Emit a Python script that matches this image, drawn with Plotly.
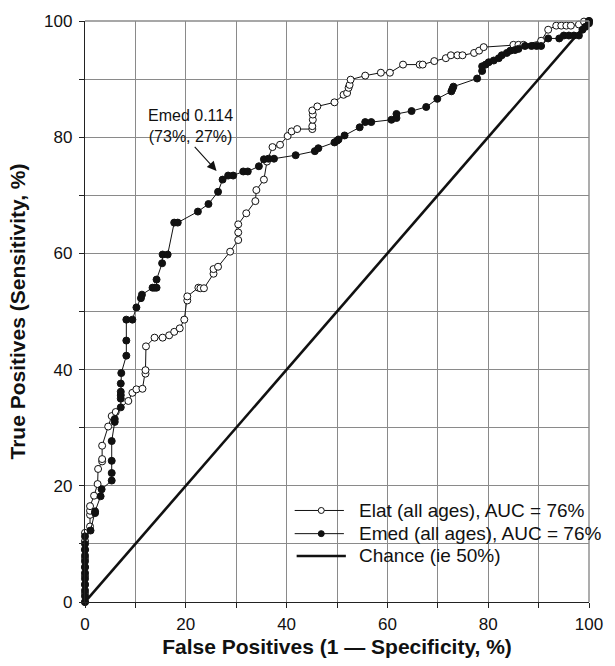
import plotly.graph_objects as go

# ---- data ----
elat_x = [0, 0, 0, 0, 0, 0, 0, 0, 0, 1.0, 1.0, 1.0, 1.0, 1.8, 2.5, 2.6, 3.4, 3.4, 3.4,
          4.6, 5.3, 6.1, 8.6, 9.4, 10.2, 11.4, 12.0, 12.0, 12.1, 13.8, 15.4, 16.7, 17.7,
          18.8, 19.7, 20.3, 20.3, 22.5, 22.9, 23.6, 25.5, 25.5, 26.4, 28.8, 30.4, 30.4,
          30.4, 32.0, 33.8, 34.0, 35.5, 36.1, 37.2, 38.7, 40.2, 41.0, 42.1, 45.1, 45.1,
          45.2, 45.2, 45.1, 46.1, 49.5, 51.3, 52.0, 52.3, 52.5, 52.7, 55.6, 58.7, 60.5,
          63.1, 66.4, 67.0, 69.3, 71.6, 72.6, 73.9, 74.9, 77.2, 78.2, 79.1, 85.0, 86.0,
          87.0, 90.5, 91.9, 93.5, 94.5, 95.5, 96.4, 98.0, 99.0, 100]
elat_y = [0, 1.5, 3, 4.5, 6, 7.5, 9, 10.5, 11.9, 13.0, 15.0, 15.7, 16.5, 18.3, 20.3, 22.9,
          24.2, 24.6, 26.9, 30.2, 32.0, 32.7, 34.6, 36.0, 36.6, 36.7, 39.3, 39.9, 44.0,
          45.5, 45.5, 45.9, 46.5, 47.1, 48.6, 51.9, 52.6, 54.1, 54.0, 54.0, 56.5, 57.3,
          57.7, 60.3, 62.3, 63.6, 65.0, 66.9, 69.0, 70.9, 72.7, 75.8, 78.3, 78.7, 80.2,
          81.0, 81.4, 81.4, 81.9, 83.0, 83.9, 84.6, 85.3, 86.0, 87.3, 87.6, 88.5, 89.0,
          89.9, 90.6, 91.1, 91.1, 92.5, 92.5, 92.5, 93.1, 93.6, 94.1, 94.1, 94.1, 94.5,
          94.9, 95.5, 95.9, 95.9, 95.9, 96.6, 98.5, 99.2, 99.2, 99.2, 99.2, 99.4, 99.9, 100]

emed_x = [0, 0, 0, 0, 0, 0, 0, 0, 0, 0, 0, 0, 1.1, 2.0, 2.0, 3.1, 3.3, 5.3, 5.3, 5.3, 5.3,
          5.9, 5.9, 7.1, 7.1, 7.1, 7.1, 7.1, 7.2, 8.2, 8.2, 8.2, 9.4, 10.2, 11.1, 11.3,
          13.4, 13.8, 14.2, 14.2, 15.3, 15.4, 16.4, 17.7, 18.4, 22.4, 24.5, 26.4, 27.3,
          28.4, 29.4, 31.4, 32.3, 34.5, 35.5, 36.4, 37.5, 41.8, 45.6, 46.3, 49.5, 50.0,
          50.3, 51.5, 54.5, 55.6, 56.8, 60.8, 61.8, 61.8, 64.8, 67.7, 69.9, 72.7, 72.9,
          73.1, 77.8, 78.8, 78.8, 79.5, 80.1, 81.1, 82.1, 82.7, 83.7, 84.4, 85.3, 86.0,
          87.3, 88.6, 89.6, 90.5, 91.9, 94.1, 95.0, 96.0, 97.0, 98.0, 98.7, 99.3, 100, 100]
emed_y = [0, 1, 2, 3, 4, 5, 6, 7, 8, 9, 10, 11.3, 12.3, 15.3, 15.6, 18.2, 19.4, 20.9, 22.2,
          24.3, 27.7, 31.0, 31.5, 33.5, 35.0, 35.6, 36.2, 37.6, 39.4, 42.4, 45.0, 48.6,
          48.6, 50.7, 52.3, 52.9, 54.1, 54.1, 54.1, 55.5, 58.3, 59.8, 59.8, 65.3, 65.3,
          67.2, 68.5, 70.6, 72.7, 73.4, 73.4, 74.1, 74.1, 75.0, 76.2, 76.3, 76.3, 76.9,
          77.6, 78.1, 79.1, 79.4, 79.6, 80.3, 81.7, 82.6, 82.6, 83.0, 83.3, 84.0, 84.5,
          85.2, 86.6, 87.9, 88.3, 88.7, 90.1, 91.4, 92.2, 92.5, 92.9, 93.2, 93.6, 94.1,
          94.5, 94.9, 95.0, 95.2, 95.7, 95.7, 95.7, 95.7, 97.0, 97.0, 97.5, 97.5, 97.5,
          97.5, 98.5, 99.0, 99.6, 100]

chance_x = [0, 100]
chance_y = [0, 100]

x_tick_vals = [0, 20, 40, 60, 80, 100]
y_tick_vals = [0, 20, 40, 60, 80, 100]

legend_labels = ["Elat (all ages), AUC = 76%", "Emed (all ages), AUC = 76%", "Chance (ie 50%)"]

FONT = "Liberation Sans, Arial, Helvetica, sans-serif"
GRID = "#8a8a8a"
INK = "#111111"

fig = go.Figure()

fig.add_trace(go.Scatter(
    x=chance_x, y=chance_y, mode="lines", name=legend_labels[2],
    line=dict(color=INK, width=2.6), cliponaxis=False, showlegend=False))

fig.add_trace(go.Scatter(
    x=elat_x, y=elat_y, mode="lines+markers", name=legend_labels[0],
    line=dict(color=INK, width=1),
    marker=dict(symbol="circle", size=7, color="white", line=dict(color=INK, width=1)),
    cliponaxis=False, showlegend=False))

fig.add_trace(go.Scatter(
    x=emed_x, y=emed_y, mode="lines+markers", name=legend_labels[1],
    line=dict(color=INK, width=1),
    marker=dict(symbol="circle", size=7, color=INK, line=dict(color=INK, width=1)),
    cliponaxis=False, showlegend=False))

axis_common = dict(
    range=[0, 100], showgrid=True, gridcolor=GRID, gridwidth=1.4,
    showline=True, linecolor="#222222", linewidth=1.3, ticks="outside", ticklen=5,
    tickcolor="#222222", tickwidth=1, zeroline=False, ticklabelstandoff=3,
    tickfont=dict(family=FONT, size=17, color=INK),
    minor=dict(dtick=10, tick0=0, showgrid=True, gridcolor=GRID, gridwidth=1.4,
               ticks="outside", ticklen=5, tickcolor="#222222"),
)

fig.update_xaxes(**axis_common)
fig.update_yaxes(**axis_common)
fig.update_xaxes(tickmode="array", tickvals=x_tick_vals, ticklabelstandoff=1,
                 title=dict(text="<b>False Positives (1 \u2014 Specificity, %)</b>",
                            font=dict(family=FONT, size=21, color=INK), standoff=6))
fig.update_yaxes(tickmode="array", tickvals=y_tick_vals,
                 title=dict(text="<b>True Positives (Sensitivity, %)</b>",
                            font=dict(family=FONT, size=21, color=INK), standoff=12))

# top and right frame lines (gray like gridlines)
fig.add_shape(type="line", xref="paper", yref="paper", x0=0, x1=1, y0=1, y1=1,
              line=dict(color=GRID, width=1.4))
fig.add_shape(type="line", xref="paper", yref="paper", x0=1, x1=1, y0=0, y1=1,
              line=dict(color=GRID, width=1.4))

# annotation with arrow
fig.add_annotation(x=20.9, y=82.0, xref="x", yref="y", text="Emed 0.114<br>(73%, 27%)",
                   showarrow=False, font=dict(family=FONT, size=16, color=INK))
fig.add_annotation(x=26.1, y=74.2, xref="x", yref="y", ax=21.5, ay=78.6,
                   axref="x", ayref="y", text="", showarrow=True,
                   arrowhead=2, arrowsize=1.7, arrowwidth=1.1, arrowcolor=INK)

# ---- legend drawn by hand (paper coordinates) ----
PL, PW, PB, PH = 85, 512, 603, 584   # plot-area pixel geometry
def px(xp): return (xp - PL) / PW
def py(yp): return (PB - yp) / PH

rows = [511, 534.3, 556.7]
for i, (lab, yrow) in enumerate(zip(legend_labels, rows)):
    yy = py(yrow)
    if i < 2:
        fig.add_shape(type="line", xref="paper", yref="paper", x0=px(298), x1=px(348),
                      y0=yy, y1=yy, line=dict(color=INK, width=1))
        fig.add_shape(type="circle", xref="paper", yref="paper",
                      xsizemode="pixel", ysizemode="pixel",
                      xanchor=px(325), yanchor=yy, x0=-3, x1=3, y0=-3, y1=3,
                      fillcolor="white" if i == 0 else INK,
                      line=dict(color=INK, width=1))
    else:
        fig.add_shape(type="line", xref="paper", yref="paper", x0=px(300), x1=px(350),
                      y0=yy, y1=yy, line=dict(color=INK, width=2.6))
    fig.add_annotation(x=px(361), y=yy, xref="paper", yref="paper", text=lab,
                       showarrow=False, xanchor="left", yanchor="middle",
                       font=dict(family=FONT, size=19, color=INK))

fig.update_layout(
    width=615, height=666,
    margin=dict(l=85, r=18, t=19, b=63),
    paper_bgcolor="white", plot_bgcolor="white",
    font=dict(family=FONT, color=INK),
    showlegend=False,
)

fig.write_html("out.html")
